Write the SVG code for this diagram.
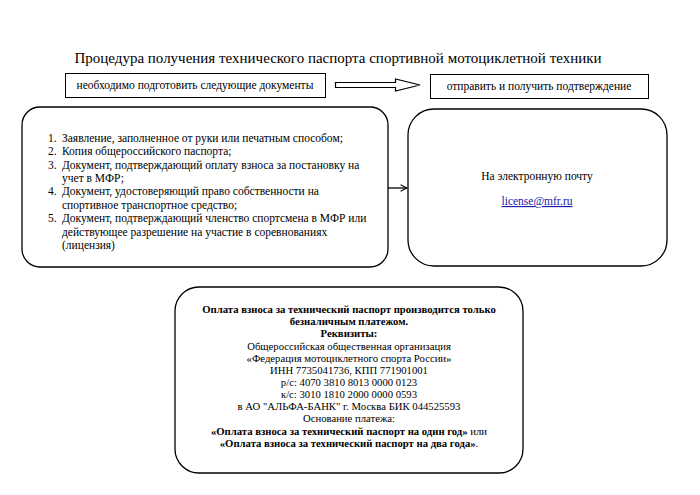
<svg xmlns="http://www.w3.org/2000/svg" width="700" height="495" viewBox="0 0 700 495">
<style>
text{font-family:'Liberation Serif','Times New Roman',serif;fill:#000}
.box{fill:#fff;stroke:#000;stroke-width:1}
.rbox{fill:#fff;stroke:#000;stroke-width:1.3}
.t{font-size:11.5px}
.b{font-size:10.7px}
.bb{font-weight:bold}
.c{text-anchor:middle}
</style>
<defs>
<marker id="ah" viewBox="0 0 10 10" refX="9" refY="5" markerWidth="8" markerHeight="8" markerUnits="userSpaceOnUse" orient="auto">
<path d="M1,1 L9,5 L1,9" fill="none" stroke="#000" stroke-width="1.3"/>
</marker>
</defs>
<rect width="700" height="495" fill="#fff"/>
<text x="338" y="63" class="c" font-size="15">Процедура получения технического паспорта спортивной мотоциклетной техники</text>

<g id="prepare">
<rect class="box" x="65.5" y="73.5" width="260" height="24"/>
<text x="195" y="89" class="c t">необходимо подготовить следующие документы</text>
</g>
<g id="send">
<rect class="box" x="430.5" y="74.5" width="218" height="24"/>
<text x="539" y="90" class="c t">отправить и получить подтверждение</text>
</g>
<g id="documents">
<rect class="rbox" x="22" y="107" width="366" height="160" rx="18" ry="18"/>
<g class="t">
<text x="48" y="142">1.</text><text x="62" y="142">Заявление, заполненное от руки или печатным способом;</text>
<text x="48" y="155">2.</text><text x="62" y="155">Копия общероссийского паспорта;</text>
<text x="48" y="169">3.</text><text x="62" y="169">Документ, подтверждающий оплату взноса за постановку на</text>
<text x="62" y="182">учет в МФР;</text>
<text x="48" y="195">4.</text><text x="62" y="195">Документ, удостоверяющий право собственности на</text>
<text x="62" y="209">спортивное транспортное средство;</text>
<text x="48" y="222">5.</text><text x="62" y="222">Документ, подтверждающий членство спортсмена в МФР или</text>
<text x="62" y="236">действующее разрешение на участие в соревнованиях</text>
<text x="62" y="249">(лицензия)</text>
</g>
</g>
<g id="email">
<rect class="rbox" x="408" y="109" width="259" height="157" rx="26" ry="26"/>
<text x="537" y="180" class="c t">На электронную почту</text>
<text x="537" y="205" class="c t" style="fill:#1a1aa6" text-decoration="underline">license@mfr.ru</text>
</g>
<g id="payment">
<rect class="rbox" x="175" y="287" width="348" height="186" rx="24" ry="24"/>
<g class="b">
<text x="349" y="313" class="c bb">Оплата взноса за технический паспорт производится только</text>
<text x="349" y="325" class="c bb">безналичным платежом.</text>
<text x="349" y="337" class="c bb">Реквизиты:</text>
<text x="349" y="350" class="c">Общероссийская общественная организация</text>
<text x="349" y="362" class="c">«Федерация мотоциклетного спорта России»</text>
<text x="349" y="374" class="c">ИНН 7735041736, КПП 771901001</text>
<text x="349" y="386" class="c">р/с: 4070 3810 8013 0000 0123</text>
<text x="349" y="398" class="c">к/с: 3010 1810 2000 0000 0593</text>
<text x="349" y="410" class="c">в АО "АЛЬФА-БАНК" г. Москва БИК 044525593</text>
<text x="349" y="422" class="c">Основание платежа:</text>
<text x="349" y="435" class="c"><tspan class="bb">«Оплата взноса за технический паспорт на один год»</tspan> или</text>
<text x="349" y="447" class="c"><tspan class="bb">«Оплата взноса за технический паспорт на два года»</tspan>.</text>
</g>
</g>
<g id="connectors">
<path d="M335.5,82.5 H395.5 V79 L420,85 L395.5,91 V87.5 H335.5 Z" fill="#fff" stroke="#000" stroke-width="1.2"/>
<line x1="388" y1="188" x2="407" y2="188" stroke="#000" stroke-width="1.3" marker-end="url(#ah)"/>
</g>
</svg>
